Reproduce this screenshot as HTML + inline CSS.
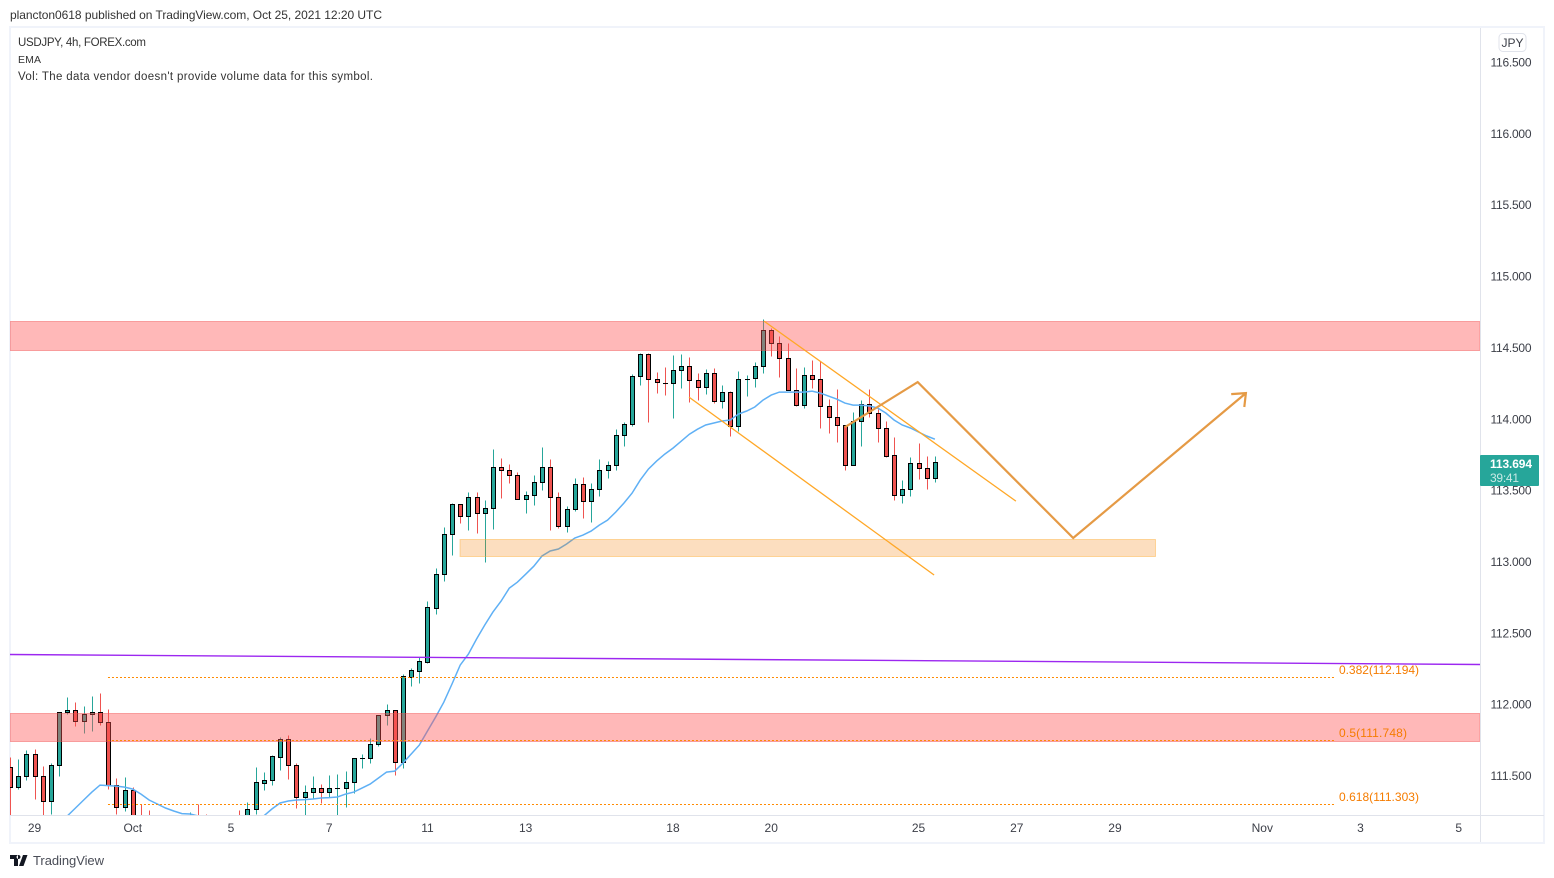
<!DOCTYPE html>
<html>
<head>
<meta charset="utf-8">
<title>USDJPY 4h chart</title>
<style>
html,body{margin:0;padding:0;background:#fff;width:1554px;height:878px;overflow:hidden}
svg{display:block}
text{font-family:"Liberation Sans",sans-serif;font-size:12px;fill:#333}
.ax{fill:#3c3f48;text-anchor:middle}
.fib{fill:#f57c00;font-size:12px}
.leg{font-size:11.5px}
</style>
</head>
<body>
<svg id="chart" width="1554" height="878" viewBox="0 0 1554 878" xmlns="http://www.w3.org/2000/svg">
  <defs><clipPath id="pane"><rect x="10" y="28" width="1470" height="787"/></clipPath></defs>
  <text x="10" y="19" textLength="372" lengthAdjust="spacing">plancton0618 published on TradingView.com, Oct 25, 2021 12:20 UTC</text>
  <rect x="10" y="27" width="1534" height="816" fill="none" stroke="#f0f3fa" stroke-width="2"/>
  <g id="marks" clip-path="url(#pane)"></g>
  <line x1="1480.5" y1="28" x2="1480.5" y2="842" stroke="#e0e3eb"/>
  <line x1="10" y1="815.5" x2="1544" y2="815.5" stroke="#e0e3eb"/>
  <text class="leg" x="18" y="46" textLength="128" lengthAdjust="spacing">USDJPY, 4h, FOREX.com</text>
  <text class="leg" x="18" y="63" style="font-size:10.5px" textLength="23" lengthAdjust="spacing">EMA</text>
  <text class="leg" x="18" y="80" textLength="355" lengthAdjust="spacing">Vol: The data vendor doesn't provide volume data for this symbol.</text>
  <rect x="1499" y="33.5" width="27" height="18" rx="4" fill="#fff" stroke="#e0e3eb"/>
  <text class="ax" x="1512.5" y="47">JPY</text>
  <g id="price-axis"></g>
  <g id="time-axis"></g>
  <rect x="1480" y="455" width="59" height="31" rx="1" fill="#26a69a"/>
  <text x="1490" y="468" style="fill:#fff;font-weight:bold" textLength="42" lengthAdjust="spacing">113.694</text>
  <text x="1490" y="482" style="fill:#c9e9e5" textLength="29" lengthAdjust="spacing">39:41</text>
  <g fill="#131722">
    <path d="M10 855h8v11h-4v-7h-4zM23 855l-4 11h4.5l4-11zM18.5 855a2 2 0 1 0 .01 0z"/>
  </g>
  <text x="33" y="865" style="font-size:13px;fill:#4a4d57" textLength="71" lengthAdjust="spacing">TradingView</text>
</svg>
<script>
const highs=[111.629,111.615,111.678,111.685,111.566,111.587,111.944,112.049,112.014,111.986,
112.056,112.077,111.965,111.482,111.489,111.419,111.300,111.258,111.173,111.187,
111.152,111.201,111.244,111.300,111.230,111.173,111.187,111.201,111.258,111.314,
111.559,111.524,111.643,111.769,111.783,111.587,111.433,111.496,111.440,111.503,
111.510,111.531,111.622,111.650,111.762,111.923,112.000,111.958,112.211,112.253,
112.330,112.722,112.953,113.241,113.409,113.402,113.486,113.486,113.430,113.787,
113.724,113.682,113.626,113.493,113.605,113.801,113.717,113.486,113.388,113.584,
113.591,113.549,113.717,113.703,113.927,113.977,114.313,114.460,114.460,114.327,
114.362,114.446,114.453,114.432,114.320,114.348,114.355,114.236,114.194,114.334,
114.306,114.397,114.698,114.635,114.579,114.530,114.355,114.362,114.411,114.404,
114.138,114.208,113.956,114.047,114.131,114.208,114.068,113.984,113.871,113.570,
113.731,113.829,113.738,113.738];
const opens=[111.559,111.419,111.496,111.650,111.496,111.321,111.573,111.944,111.958,111.881,
111.930,111.944,111.874,111.433,111.279,111.398,111.145,111.060,111.010,111.117,
110.977,110.907,111.082,111.152,111.082,110.977,111.047,111.103,111.152,111.131,
111.265,111.447,111.468,111.629,111.755,111.573,111.349,111.384,111.412,111.384,
111.412,111.412,111.454,111.622,111.622,111.720,111.923,111.958,111.594,112.190,
112.232,112.295,112.673,112.911,113.192,113.402,113.318,113.451,113.339,113.374,
113.661,113.640,113.605,113.437,113.465,113.556,113.661,113.451,113.248,113.367,
113.542,113.423,113.507,113.640,113.675,113.885,113.963,114.299,114.453,114.278,
114.252,114.250,114.341,114.369,114.271,114.222,114.320,114.124,114.187,113.949,
114.278,114.285,114.369,114.621,114.530,114.425,114.201,114.096,114.306,114.278,
114.089,114.012,113.956,113.675,113.984,114.103,114.040,113.935,113.745,113.465,
113.507,113.689,113.654,113.584];
const closes=[111.419,111.496,111.650,111.496,111.321,111.573,111.944,111.958,111.881,111.930,
111.944,111.874,111.433,111.279,111.398,111.145,111.060,111.010,111.117,110.977,
110.907,111.082,111.152,111.082,110.977,111.047,111.103,111.033,111.103,111.265,
111.454,111.468,111.636,111.755,111.573,111.349,111.384,111.412,111.384,111.412,
111.412,111.454,111.622,111.622,111.720,111.923,111.958,111.594,112.197,112.239,
112.302,112.680,112.911,113.192,113.402,113.318,113.451,113.339,113.374,113.661,
113.640,113.605,113.437,113.465,113.556,113.661,113.451,113.248,113.367,113.542,
113.423,113.507,113.640,113.675,113.885,113.963,114.299,114.453,114.278,114.257,
114.250,114.341,114.369,114.271,114.222,114.320,114.124,114.187,113.949,114.278,
114.278,114.369,114.621,114.530,114.425,114.201,114.096,114.306,114.278,114.089,
114.012,113.956,113.675,113.984,114.103,114.040,113.935,113.738,113.465,113.507,
113.689,113.654,113.584,113.694];
const lows=[111.117,111.405,111.468,111.335,111.201,111.230,111.496,111.930,111.846,111.797,
111.811,111.853,111.405,111.230,111.251,111.103,111.010,110.940,110.940,110.907,
110.837,110.837,111.012,110.977,110.907,110.921,110.977,110.977,111.047,111.082,
111.230,111.398,111.433,111.538,111.475,111.272,111.201,111.342,111.307,111.349,
111.187,111.279,111.377,111.552,111.587,111.706,111.853,111.503,111.552,112.127,
112.148,112.288,112.631,112.862,113.045,113.269,113.220,113.199,112.996,113.227,
113.444,113.549,113.437,113.339,113.395,113.500,113.220,113.234,113.206,113.353,
113.304,113.276,113.458,113.584,113.640,113.808,113.949,114.236,113.977,114.180,
114.166,114.005,114.215,114.117,114.131,114.173,114.110,114.075,113.879,113.914,
114.159,114.222,114.320,114.439,114.292,114.201,114.089,114.075,114.215,113.935,
113.900,113.836,113.640,113.675,113.808,114.012,113.836,113.731,113.430,113.409,
113.458,113.577,113.507,113.556];
const emaStartBar=6;
const emaValues=[111.152,111.216,111.272,111.328,111.384,111.433,111.429,111.426,111.419,111.405,
111.370,111.328,111.300,111.272,111.251,111.233,111.230,111.216,111.187,111.166,
111.152,111.145,111.138,111.152,111.166,111.216,111.265,111.307,111.321,111.328,
111.331,111.335,111.342,111.345,111.349,111.370,111.384,111.412,111.440,111.482,
111.524,111.531,111.587,111.650,111.713,111.811,111.909,112.014,112.141,112.274,
112.351,112.456,112.554,112.645,112.722,112.813,112.855,112.911,112.967,113.038,
113.073,113.087,113.122,113.164,113.185,113.213,113.255,113.290,113.346,113.409,
113.479,113.570,113.647,113.703,113.752,113.794,113.843,113.892,113.927,113.956,
113.970,113.984,113.991,114.033,114.054,114.082,114.131,114.166,114.187,114.187,
114.187,114.187,114.194,114.180,114.159,114.138,114.110,114.096,114.096,114.089,
114.075,114.040,113.991,113.956,113.935,113.907,113.879,113.857];
const priceTicks=[116.5,116,115.5,115,114.5,114,113.5,113,112.5,112,111.5];
const timeTickLabels=["29","Oct","5","7","11","13","18","20","25","27","29","Nov","3","5"];
const timeTickBars=[3,15,27,39,51,63,81,93,111,123,135,153,165,177];
const supplyZoneBars=[0,179.6];
const supplyZonePrices=[114.685,114.482];
const demandZonePrices=[111.938,111.742];
const targetZoneBars=[54.98,139.95];
const targetZonePrices=[113.157,113.038];
const trendBars=[0,179.6];
const trendPrices=[112.348,112.278];
const channelUpperBars=[92.12,122.9];
const channelUpperPrices=[114.684,113.423];
const channelLowerBars=[82.96,112.9];
const channelLowerPrices=[114.152,112.905];
const projectionBars=[102,110.9,129.9,151];
const projectionPrices=[113.941,114.257,113.164,114.18];
const arrowBars=[149.2,151,150.8];
const arrowPrices=[114.173,114.18,114.082];
const fibBars=[11.97,162];
const fibLevels=[112.194,111.748,111.303];
const fibLabels=["0.382(112.194)","0.5(111.748)","0.618(111.303)"];

const NS="http://www.w3.org/2000/svg";
const GREEN="#26a69a",RED="#ef5350";
const xRaw=i=>10+8.185*i;
const xOf=i=>Math.round(xRaw(i))+0.5;
const yRaw=p=>62+(116.5-p)*142.7;
const yOf=p=>Math.round(yRaw(p))+0.5;
const marks=document.getElementById('marks');
function mk(tag,parent,attrs){
  const el=document.createElementNS(NS,tag);
  for(const k in attrs)el.setAttribute(k,attrs[k]);
  parent.appendChild(el);
  return el;
}
function pointsOf(bars,prices){
  return bars.map((b,i)=>xRaw(b).toFixed(1)+','+yRaw(prices[i]).toFixed(1)).join(' ');
}

closes.forEach((c,i)=>{
  const o=opens[i];
  const col=c>=o?GREEN:RED;
  const cx=xOf(i);
  const wick=mk('line',marks,{x1:cx,x2:cx,y1:yOf(highs[i]),y2:yOf(lows[i]),stroke:col,'stroke-width':1});
  
  
  const top=yOf(Math.max(o,c)),bot=yOf(Math.min(o,c));
  const body=mk('rect',marks,{x:cx-2,y:top,width:4,height:Math.max(bot-top,0.01),fill:col,stroke:'#000','stroke-width':1});
  
  
});

const ema=mk('polyline',marks,{points:pointsOf(emaValues.map((v,i)=>i+emaStartBar),emaValues),fill:'none',stroke:'#5fb0f5','stroke-width':1.5});



function zone(bars,prices,fill,stroke){
  const x=xRaw(bars[0]),w=xRaw(bars[1])-x;
  const a=Math.round(yRaw(prices[0]))+0.5,b=Math.round(yRaw(prices[1]))+0.5;
  return mk('rect',marks,{x:x,y:a,width:w,height:b-a,fill:fill,stroke:stroke,'stroke-width':1});
}
const zoneUpper=zone(supplyZoneBars,supplyZonePrices,'rgba(255,82,82,.41)','rgba(240,80,80,.45)');


const zoneLower=zone(supplyZoneBars,demandZonePrices,'rgba(255,82,82,.41)','rgba(240,80,80,.45)');


const zoneTarget=zone(targetZoneBars,targetZonePrices,'rgba(245,124,0,.25)','rgba(255,167,38,.4)');



fibLevels.forEach((lvl,i)=>{
  const y=Math.round(yRaw(lvl)+0.3)+0.5;
  const fl=mk('line',marks,{x1:xRaw(fibBars[0]),x2:xRaw(fibBars[1]),y1:y,y2:y,stroke:'#ff8a00','stroke-width':1,'stroke-dasharray':'2 2'});
  
  
  const t=mk('text',marks,{x:1339,y:y-3.5,class:'fib',textLength:i===1?68:80,lengthAdjust:'spacing'});
  t.textContent=fibLabels[i];
  
  
});

const trend=mk('polyline',marks,{points:pointsOf(trendBars,trendPrices),fill:'none',stroke:'#9c27f0','stroke-width':1.4});


const chU=mk('polyline',marks,{points:pointsOf(channelUpperBars,channelUpperPrices),fill:'none',stroke:'#ffa726','stroke-width':1.3});


const chL=mk('polyline',marks,{points:pointsOf(channelLowerBars,channelLowerPrices),fill:'none',stroke:'#ffa726','stroke-width':1.3});


const proj=mk('polyline',marks,{points:pointsOf(projectionBars,projectionPrices),fill:'none',stroke:'#e59a45','stroke-width':2.2});


const arrow=mk('polyline',marks,{points:pointsOf(arrowBars,arrowPrices),fill:'none',stroke:'#e59a45','stroke-width':2.2});



const priceAxis=document.getElementById('price-axis');
priceTicks.forEach(p=>{
  const t=mk('text',priceAxis,{x:1511,y:yRaw(p)+4.5,class:'ax',textLength:41,lengthAdjust:'spacing'});
  t.textContent=p.toFixed(3);
  
  
});
const timeAxis=document.getElementById('time-axis');
timeTickLabels.forEach((s,i)=>{
  const t=mk('text',timeAxis,{x:xRaw(timeTickBars[i]),y:832,class:'ax'});
  t.textContent=s;
  
  
});
</script>
</body>
</html>
